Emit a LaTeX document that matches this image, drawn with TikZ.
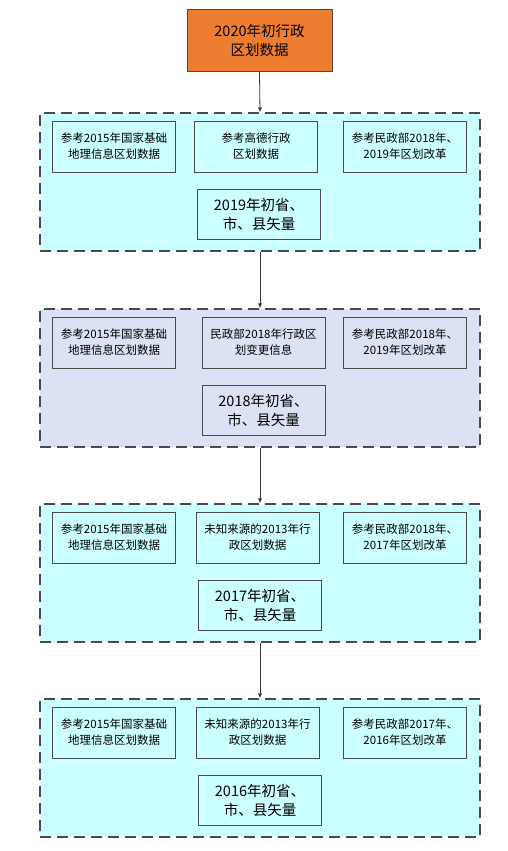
\documentclass[tikz,border=0pt]{standalone}
\usepackage{fontspec}
\newfontfamily\cjk{Noto Sans CJK SC}
\usetikzlibrary{arrows.meta}
\definecolor{headorange}{HTML}{ED7D31}
\definecolor{cyanbg}{HTML}{CCFFFF}
\definecolor{lavbg}{HTML}{DAE2F3}
\definecolor{edgegray}{HTML}{4A4A4A}
\begin{document}
\begin{tikzpicture}[x=1pt, y=-1pt,
    box/.style={draw=edgegray, line width=0.9pt, inner sep=0pt, align=center,
      font=\cjk\fontsize{11.5}{16}\selectfont, minimum width=123pt, minimum height=51pt},
    yearbox/.style={box, font=\cjk\fontsize{14.5}{19}\selectfont, minimum height=50pt},
    grp/.style={draw=edgegray, line width=1.2pt, dash pattern=on 11pt off 6pt,
      minimum width=440pt, minimum height=138pt, inner sep=0pt},
    arr/.style={-{Latex[length=5pt,width=4pt]}, line width=0.8pt, color=black!80}]
      \useasboundingbox (0,0) rectangle (507,851);

      %% Head box
      \node[yearbox, fill=headorange, minimum width=145pt, minimum height=62pt] (head) at (259.5,40)
        {2020年初行政\\区划数据};

      %% Four groups of sources
      \foreach \i/\top/\fc/\xb/\xy/\tb/\tc/\yr in {%
        1/113/cyanbg/256/259/{参考高德行政\\区划数据}/{参考民政部2018年、\\2019年区划改革}/2019,
        2/309/lavbg/263.5/263.5/{民政部2018年行政区\\划变更信息}/{参考民政部2018年、\\2019年区划改革}/2018,
        3/504/cyanbg/257.5/260/{未知来源的2013年行\\政区划数据}/{参考民政部2018年、\\2017年区划改革}/2017,
        4/699/cyanbg/257.5/260/{未知来源的2013年行\\政区划数据}/{参考民政部2017年、\\2016年区划改革}/2016}
      {%
        \node[grp, fill=\fc] (g\i) at (260, \top + 69) {};
        \node[box] (ga\i) at (114, \top + 33.5) {参考2015年国家基础\\地理信息区划数据};
        \node[box] (gb\i) at (\xb, \top + 33.5) {\tb};
        \node[box] (gc\i) at (405, \top + 33.5) {\tc};
        \node[yearbox] (gy\i) at (\xy, \top + 101) {\yr 年初省、\\市、县矢量};
      }

      %% Connectors
      \draw[arr] (head.south) -- (g1.north);
      \foreach \i [evaluate=\i as \j using int(\i+1)] in {1, 2, 3}
      {%
        \draw[arr] (g\i.south) -- (g\j.north);
      }
\end{tikzpicture}
\end{document}
